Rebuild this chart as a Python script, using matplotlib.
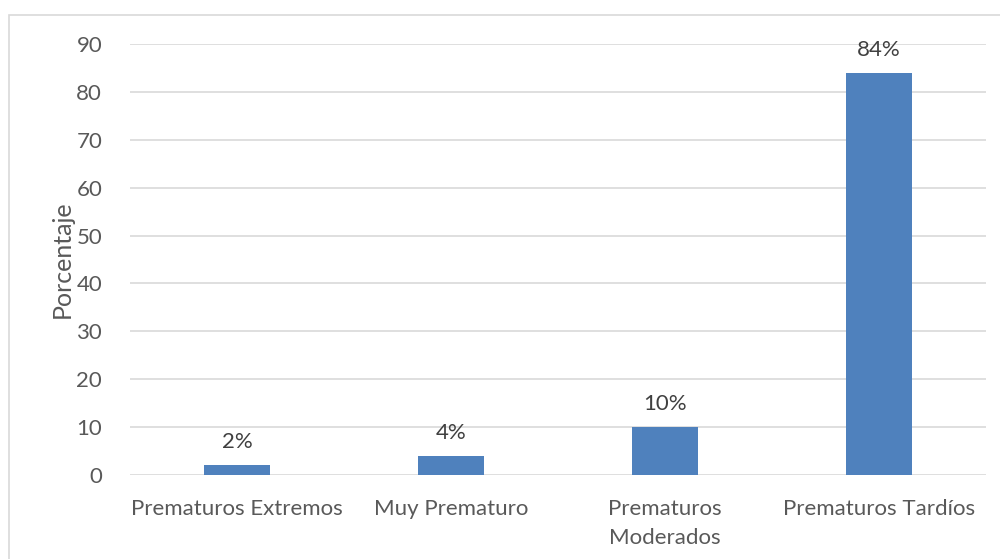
import matplotlib
matplotlib.use("Agg")
import matplotlib.pyplot as plt
from matplotlib.patches import Rectangle

categories = ["Prematuros Extremos", "Muy Prematuro", "Prematuros\nModerados", "Prematuros Tardíos"]
values = [2, 4, 10, 84]
value_labels = ["2%", "4%", "10%", "84%"]
y_ticks = [0, 10, 20, 30, 40, 50, 60, 70, 80, 90]

plt.rcParams['font.family'] = ['Lato', 'DejaVu Sans']
text_color = "#595959"

fig = plt.figure(figsize=(10, 5.59), dpi=100)
W, H = 1000, 559
ax = fig.add_axes([130 / W, 1 - 475 / H, (986 - 130) / W, (475 - 44) / H])

x = list(range(len(categories)))
ax.bar(x, values, width=0.313, color="#4F81BD", zorder=3)
for xi, v, lab in zip(x, values, value_labels):
    ax.text(xi, v + 2.7, lab, ha="center", va="bottom", fontsize=16, color="#404040")

ax.set_xlim(-0.5, len(categories) - 0.5)
ax.set_ylim(0, 90)
ax.set_yticks(y_ticks)
ax.set_xticks(x)
ax.set_xticklabels(categories, fontsize=16, color=text_color, linespacing=1.6)
ax.tick_params(axis="y", labelsize=16, labelcolor=text_color, length=0, pad=20)
ax.tick_params(axis="x", length=0, pad=17)
ax.grid(axis="y", color="#D9D9D9", linewidth=1.2, zorder=0)
for s in ax.spines.values():
    s.set_visible(False)
ax.set_ylabel("Porcentaje", fontsize=18, color=text_color, labelpad=2)

# chart area frame
fig.patches.append(Rectangle((9 / W, -0.1), 1.2, 1.1 - 15 / H, transform=fig.transFigure,
                             fill=False, edgecolor="#D9D9D9", linewidth=1.2))

fig.savefig("out.png", dpi=100)
